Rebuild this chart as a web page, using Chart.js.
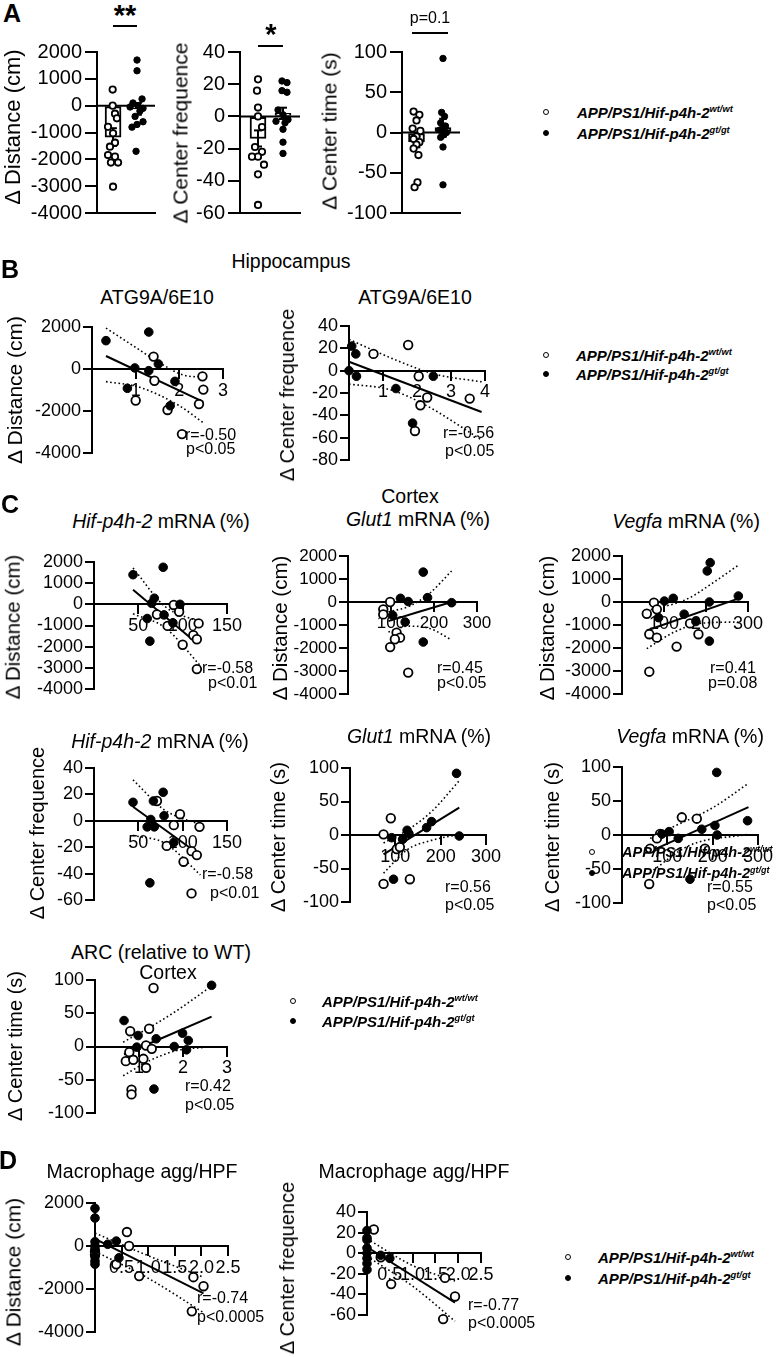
<!DOCTYPE html>
<html><head><meta charset="utf-8">
<script src="https://cdn.jsdelivr.net/npm/chart.js@4.4.1/dist/chart.umd.min.js"></script>
<style>
html,body{margin:0;padding:0;background:#fff;}
#root{position:relative;width:776px;height:1357px;overflow:hidden;font-family:'Liberation Sans',Arial,Helvetica,sans-serif;color:#000;background:#fff;}
canvas{position:absolute;}
.t{position:absolute;white-space:nowrap;line-height:1;}
.t sup{font-size:0.62em;vertical-align:0.55em;line-height:0;}
.hl{position:absolute;height:2px;background:#000;}
.mk{position:absolute;border-radius:50%;box-sizing:border-box;border:1.6px solid #000;}
</style></head><body><div id="root"></div>
<script>
// ---------------- DATA ----------------
// Panel A : Δ behaviour per genotype (open = wt/wt, filled = gt/gt)
const aColX = [0.83, 2.12];
const aDistWtY = [600, 0, -300, -470, -790, -1030, -1380, -1530, -1840, -1900, -2120, -2120, -3020];
const aDistWtX = [0.81, 0.81, 0.93, 1.03, 0.57, 0.83, 0.93, 0.67, 0.57, 0.93, 0.72, 1.09, 0.83];
const aDistGtY = [1700, 1300, 250, 100, 0, -50, -100, -200, -400, -600, -700, -800, -1700];
const aDistGtX = [2.07, 2.07, 2.33, 1.86, 2.12, 1.71, 2.38, 2.22, 1.97, 2.38, 2.07, 1.81, 2.02];
const aDistMean = [-1170, -120];
const aDistSem = [330, 220];

const aFreqColX = [0.9, 2.15];
const aFreqWtY = [23, 16, 5.5, 0, -6.6, -19, -22, -25, -25, -30, -36, -55];
const aFreqWtX = [0.9, 0.85, 0.9, 0.9, 1.1, 0.75, 1.1, 0.9, 0.6, 1.2, 0.9, 0.9];
const aFreqGtY = [22, 21, 16, 15, 4, 1, -2, -3, -4, -8, -16, -23];
const aFreqGtX = [2.1, 2.35, 2.1, 2.35, 1.9, 2.15, 2.4, 1.8, 2.25, 2.15, 2.15, 2.15];
const aFreqMean = [-13.7, 1.9];
const aFreqSem = [5, 3.5];

const aTimeColX = [0.75, 2.12];
const aTimeWtY = [26, 22, 15, 5, 2, -5, -8, -12, -15, -20, -28, -62, -68];
const aTimeWtX = [0.6, 0.9, 0.75, 0.55, 0.95, 0.75, 0.6, 0.9, 0.75, 0.6, 0.85, 0.8, 0.65];
const aTimeGtY = [92, 25, 20, 12, 8, 5, 3, 0, -3, -6, -18, -65];
const aTimeGtX = [2.12, 2.05, 2.2, 2.0, 2.25, 2.1, 1.95, 2.3, 2.15, 2.0, 2.12, 2.12];
const aTimeMean = [-11.4, 6];
const aTimeSem = [7, 11];

// Panel B : Hippocampus ATG9A/6E10
const b1GtX = [0.32, 1.30, 0.98, 1.30, 1.52, 0.81, 1.90, 1.79];
const b1GtY = [1350, 1760, 50, -80, 240, -920, -590, -1750];
const b1WtX = [1.41, 1.43, 1.00, 1.73, 2.53, 2.55, 2.45, 2.06];
const b1WtY = [590, -560, -1500, -1950, -350, -980, -1670, -3100];
const b1FitX = [0.32, 2.55], b1FitY = [620, -1570];
const b1UpX = [0.32, 0.94, 1.47, 2.15, 2.55], b1UpY = [1950, 1110, 400, -320, -380];
const b1LoX = [0.32, 1.09, 2.0, 2.55], b1LoY = [-600, -870, -1750, -2560];

const b2GtX = [0.08, 0.2, 0, 0.22, 1.38, 2.48, 1.87];
const b2GtY = [22, 15, 0, -5, -16, -5, -47];
const b2WtX = [0.72, 1.74, 2.05, 2.3, 2.1, 1.94, 3.55];
const b2WtY = [15, 23, -5, -24, -31, -54, -25];
const b2FitX = [0, 3.9], b2FitY = [8, -37];
const b2UpX = [0, 1.5, 2.5, 3.9], b2UpY = [28, 8, -3, -10];
const b2LoX = [0, 1.2, 2.2, 3.9], b2LoY = [-12, -17, -30, -62];

// Panel C : Cortex
const c1GtX = [44, 78, 68, 65, 97, 60, 89, 79, 63];
const c1GtY = [1400, 1750, 290, 50, 0, -670, -875, -500, -1740];
const c1WtX = [90, 96, 71, 118, 83, 112, 116, 100, 116];
const c1WtY = [-30, -350, -480, -900, -1020, -1460, -1650, -1910, -3060];
const c1FitX = [44, 112], c1FitY = [690, -1700];
const c1UpX = [44, 80, 120], c1UpY = [1720, -100, -830];
const c1LoX = [44, 80, 120], c1LoY = [-450, -1100, -2900];

const c2GtX = [175, 122, 140, 185, 241, 104, 133, 175];
const c2GtY = [1300, 160, 20, 190, -30, -580, -870, -1740];
const c2WtX = [98, 82, 82, 113, 121, 109, 98, 140];
const c2WtY = [0, -320, -540, -1330, -1550, -1620, -1960, -3070];
const c2FitX = [94, 241], c2FitY = [-830, 0];
const c2UpX = [94, 144, 191, 241], c2UpY = [-430, -170, 400, 1350];
const c2LoX = [94, 140, 190, 241], c2LoY = [-1300, -1050, -1150, -1650];

const c3GtX = [210, 203, 101, 122, 277, 208, 148, 176, 87, 208];
const c3GtY = [1710, 1350, 40, 160, 260, 0, -530, -850, -680, -1700];
const c3WtX = [76, 83, 59, 65, 83, 130, 182, 162, 65];
const c3WtY = [-30, -320, -510, -1400, -1550, -1940, -1400, -930, -3030];
const c3FitX = [59, 280], c3FitY = [-1240, 170];
const c3UpX = [59, 154, 217, 277], c3UpY = [-380, 120, 840, 1600];
const c3LoX = [59, 122, 186, 277], c3LoY = [-2030, -1330, -930, -870];

const c4GtX = [44, 78, 67, 79, 64, 60, 68, 90, 63];
const c4GtY = [14, 21.6, 15, 3.8, 1, -4.6, -4.6, -16.4, -47];
const c4WtX = [71, 97, 90, 119, 82, 110, 116, 101, 110];
const c4WtY = [15, 5, -3.3, -4.6, -19, -23, -26, -31, -55];
const c4FitX = [44, 116], c4FitY = [10.6, -24.2];
const c4UpX = [44, 80, 120], c4UpY = [31, 8, -3];
const c4LoX = [44, 80, 120], c4LoY = [-11, -17, -41];

const c5GtX = [235, 180, 169, 126, 130, 92, 116, 241, 96];
const c5GtY = [92, 20, 11, 7, 2, -4, -6.5, -1.5, -66];
const c5WtX = [74, 90, 103, 110, 74, 132];
const c5WtY = [1, 25, -21, -18, -73, -66];
const c5FitX = [74, 241], c5FitY = [-29, 41];
const c5UpX = [74, 126, 180, 241], c5UpY = [-12, 7, 35, 81];
const c5LoX = [74, 126, 180, 241], c5LoY = [-57, -22, -8, 1];

const c6GtX = [209, 277, 205, 176, 104, 88, 124, 210, 150];
const c6GtY = [92, 21, 14, 8.5, 5, 1.5, -5, 0, -65];
const c6WtX = [132, 165, 84, 77, 62, 183, 60];
const c6WtY = [26, 24, 1.5, -5, -20, -20, -72];
const c6FitX = [62, 279], c6FitY = [-24, 41];
const c6UpX = [62, 113, 200, 279], c6UpY = [-5, 12, 40, 76];
const c6LoX = [62, 150, 279], c6LoY = [-55, -15, 1];

const c7GtX = [2.65, 0.66, 1.99, 2.12, 0.98, 1.39, 1.80, 2.08, 0.95, 1.34];
const c7GtY = [92, 39, 20, 9, 16.5, 11.6, 0, -5, -1, -64];
const c7WtX = [1.33, 0.80, 1.23, 1.16, 1.29, 0.78, 0.70, 0.87, 1.10, 1.16, 0.83, 0.83];
const c7WtY = [88, 23, 26.7, 1.5, -3.5, -8.5, -22, -20, -18.5, -32, -65, -72];
const c7FitX = [0.66, 2.65], c7FitY = [-12, 45];
const c7UpX = [0.64, 1.25, 1.86, 2.61], c7UpY = [6.5, 29, 54, 89];
const c7LoX = [0.64, 1.25, 1.86, 2.54], c7LoY = [-44, -21, -6, -1];

// Panel D : Macrophage agg/HPF
const d1GtX = [0, 0, 0, 0, 0, 0, 0, 0, 0.24, 0.4, 0.45];
const d1GtY = [1750, 1300, 200, 0, -150, -500, -700, -850, 80, 230, -550];
const d1WtX = [0.6, 0.64, 0.4, 0.83, 1.85, 2.04, 1.82, 0, 0];
const d1WtY = [650, 0, -850, -1400, -1450, -1870, -3040, -250, -400];
const d1FitX = [0, 2.04], d1FitY = [330, -2200];
const d1UpX = [0, 1, 2.04], d1UpY = [600, -450, -1450];
const d1LoX = [0, 1, 2.04], d1LoY = [-250, -1500, -3100];

const d2GtX = [0, 0, 0, 0, 0, 0, 0, 0, 0.3, 0.5];
const d2GtY = [22, 15, 13, 5, 0, -5, -10, -16, -2, -5];
const d2WtX = [0.15, 0.3, 0.53, 1.71, 1.93, 1.67];
const d2WtY = [23, -4, -30, -24, -42, -64];
const d2FitX = [0, 1.93], d2FitY = [6, -48];
const d2UpX = [0, 1, 1.93], d2UpY = [14, -12, -27];
const d2LoX = [0, 1, 1.93], d2LoY = [-3, -32, -66];

// Tick values
const ticksDist2k = [-4000, -2000, 0, 2000];
const ticksDist1k = [-4000, -3000, -2000, -1000, 0, 1000, 2000];
const ticksFreq20 = [-60, -40, -20, 0, 20, 40];
const ticksFreq80 = [-80, -60, -40, -20, 0, 20, 40];
const ticksTime50 = [-100, -50, 0, 50, 100];
const xTicks0to3 = [0, 1, 2, 3], xLabels0to3 = ['', '1', '2', '3'];
const xTicks0to4 = [0, 1, 2, 3, 4], xLabels0to4 = ['', '1', '2', '3', '4'];
const xTicksHif = [0, 50, 100, 150], xLabelsHif = ['', '50', '100', '150'];
const xTicks300 = [0, 100, 200, 300], xLabels300 = ['', '100', '200', '300'];
const xTicksMac = [0, 0.5, 1, 1.5, 2, 2.5], xLabelsMac = ['', '0.5', '1.0', '1.5', '2.0', '2.5'];

const legendWt = 'APP/PS1/Hif-p4h-2', supWt = 'wt/wt', supGt = 'gt/gt';

// ---------------- HELPERS ----------------
const FONT = "'Liberation Sans', Arial, Helvetica, sans-serif";
Chart.defaults.font.family = FONT;
Chart.defaults.color = '#000';
const root = document.getElementById('root');

function P(xs, ys) { return xs.map((x, i) => ({x: x, y: ys[i]})); }
function wt(xs, ys, r) { return {data: P(xs, ys), pointRadius: r || 4.3, pointBackgroundColor: '#fff', pointBorderColor: '#000', pointBorderWidth: 1.8, showLine: false, clip: false, order: 0}; }
function gt(xs, ys, r) { return {data: P(xs, ys), pointRadius: r || 4.3, pointBackgroundColor: '#000', pointBorderColor: '#000', pointBorderWidth: 1, showLine: false, clip: false, order: 0}; }
function ln(xs, ys, dotted) {
  return {data: P(xs, ys), showLine: true, pointRadius: 0, borderColor: '#000', borderWidth: dotted ? 1.6 : 2,
    borderDash: dotted ? [1.6, 2.6] : [], tension: dotted ? 0.35 : 0, cubicInterpolationMode: 'monotone', fill: false, clip: false, order: 1};
}
function errBars(cols, means, sems, cap) {
  const out = [];
  cols.forEach((c, i) => {
    const lo = means[i] - sems[i], hi = means[i] + sems[i];
    out.push(ln([c, c], [lo, hi]));
    out.push(ln([c - cap, c + cap], [lo, lo]));
    out.push(ln([c - cap, c + cap], [hi, hi]));
  });
  return out;
}
function bars(cols, means) {
  return {type: 'bar', data: P(cols, means), barThickness: 16, backgroundColor: '#fff', borderColor: '#000', borderWidth: 2, borderSkipped: false, clip: false, order: 2};
}

function options(s) {
  const tf = {size: s.tf || 18, family: FONT};
  const ytl = s.ytl || 9;
  return {
    responsive: false, maintainAspectRatio: false, animation: false, devicePixelRatio: 1, events: [],
    layout: {padding: {left: 0, right: 24, top: 16, bottom: 16}},
    plugins: {legend: {display: false}, tooltip: {enabled: false}},
    scales: {
      x: {
        type: 'linear', min: s.xMin, max: s.xMax, offset: false,
        position: s.bar ? 'bottom' : {y: 0},
        afterBuildTicks: ax => { ax.ticks = s.xTicks.map(v => ({value: v})); },
        afterFit: ax => { ax.height = 0; },
        ticks: {display: !s.bar, autoSkip: false, maxRotation: 0, minRotation: 0, padding: 2, font: tf, color: '#000',
          callback: (v, i) => s.xLabels ? s.xLabels[i] : ''},
        grid: {display: !s.bar, offset: false, drawOnChartArea: false, drawTicks: true, tickLength: 9, color: '#000', lineWidth: 2},
        border: {display: true, color: '#000', width: 2}
      },
      y: {
        type: 'linear', min: s.yMin, max: s.yMax, position: 'left',
        afterBuildTicks: ax => { ax.ticks = s.yTicks.map(v => ({value: v})); },
        afterFit: ax => { ax.width = 80; },
        ticks: {autoSkip: false, padding: s.ypad || 2, font: tf, color: '#000', callback: (v, i) => String(s.yTicks[i])},
        grid: {drawOnChartArea: false, drawTicks: true, tickLength: ytl, color: '#000', lineWidth: 2},
        border: {display: true, color: '#000', width: 2}
      }
    }
  };
}

function make(W, H, s) {
  const c = document.createElement('canvas');
  c.width = W; c.height = H; c.style.width = W + 'px'; c.style.height = H + 'px';
  c.style.left = '0px'; c.style.top = '0px';
  root.appendChild(c);
  const ch = new Chart(c, {type: 'scatter', data: {datasets: s.sets()}, options: options(s)});
  return {c, ch};
}
function panel(s) {
  const aw = s.x1 - s.x0, ah = s.yBot - s.yTop;
  let W = Math.round(aw + 80 + 24), H = Math.round(ah + 32);
  let m = make(W, H, s);
  for (let k = 0; k < 3; k++) {
    const a = m.ch.chartArea;
    const dw = aw - (a.right - a.left), dh = ah - (a.bottom - a.top);
    if (Math.abs(dw) < 0.5 && Math.abs(dh) < 0.5) break;
    m.ch.destroy(); m.c.remove();
    W = Math.round(W + dw); H = Math.round(H + dh);
    m = make(W, H, s);
  }
  const a = m.ch.chartArea;
  m.c.style.left = (s.x0 - a.left) + 'px';
  m.c.style.top = (s.yTop - a.top) + 'px';
}

function T(html, x, y, size, o) {
  o = o || {};
  const d = document.createElement('div'); d.className = 't';
  d.innerHTML = html; d.style.fontSize = size + 'px';
  d.style.left = x + 'px'; d.style.top = y + 'px';
  let tr = o.left ? 'translate(0,-50%)' : 'translate(-50%,-50%)';
  if (o.rot) tr += ' rotate(-90deg)';
  d.style.transform = tr;
  if (o.bold) d.style.fontWeight = 'bold';
  if (o.italic) d.style.fontStyle = 'italic';
  root.appendChild(d);
}
function H(x1, x2, y) { const d = document.createElement('div'); d.className = 'hl'; d.style.left = x1 + 'px'; d.style.width = (x2 - x1) + 'px'; d.style.top = (y - 1) + 'px'; root.appendChild(d); }
function M(x, y, r, filled) { const d = document.createElement('div'); d.className = 'mk'; d.style.left = (x - r) + 'px'; d.style.top = (y - r) + 'px'; d.style.width = 2 * r + 'px'; d.style.height = 2 * r + 'px'; d.style.background = filled ? '#000' : '#fff'; root.appendChild(d); }
function legend(mx, y1, y2, tx, size) {
  M(mx, y1, 3.3, false); M(mx, y2, 3.3, true);
  T(legendWt + '<sup>' + supWt + '</sup>', tx, y1, size, {left: true, italic: true, bold: true});
  T(legendWt + '<sup>' + supGt + '</sup>', tx, y2, size, {left: true, italic: true, bold: true});
}
function sc(gx, gy, wx, wy, fx, fy, ux, uy, lx, ly) {
  return () => [gt(gx, gy), wt(wx, wy), ln(fx, fy), ln(ux, uy, true), ln(lx, ly, true)];
}

// ---------------- PANEL A ----------------
panel({x0: 97, x1: 155, yTop: 52, yBot: 213, xMin: 0, xMax: 3, xTicks: [0, 3], yMin: -4000, yMax: 2000, yTicks: ticksDist1k, tf: 20, ytl: 12, ypad: 3, bar: true,
  sets: () => [wt(aDistWtX, aDistWtY, 3.2), gt(aDistGtX, aDistGtY, 3.2), ln([0, 3], [0, 0]), ...errBars(aColX, aDistMean, aDistSem, 0.2), bars(aColX, aDistMean)]});
panel({x0: 240, x1: 300, yTop: 52, yBot: 213, xMin: 0, xMax: 3, xTicks: [0, 3], yMin: -60, yMax: 40, yTicks: ticksFreq20, tf: 20, ytl: 12, ypad: 3, bar: true,
  sets: () => [wt(aFreqWtX, aFreqWtY, 3.2), gt(aFreqGtX, aFreqGtY, 3.2), ln([0, 3], [0, 0]), ...errBars(aFreqColX, aFreqMean, aFreqSem, 0.2), bars(aFreqColX, aFreqMean)]});
panel({x0: 402, x1: 460, yTop: 52, yBot: 213, xMin: 0, xMax: 3, xTicks: [0, 3], yMin: -100, yMax: 100, yTicks: ticksTime50, tf: 20, ytl: 12, ypad: 3, bar: true,
  sets: () => [wt(aTimeWtX, aTimeWtY, 3.2), gt(aTimeGtX, aTimeGtY, 3.2), ln([0, 3], [0, 0]), ...errBars(aTimeColX, aTimeMean, aTimeSem, 0.2), bars(aTimeColX, aTimeMean)]});

T('A', 12, 13, 25, {bold: true});
T('**', 125, 15, 29, {bold: true});
H(113, 137, 26);
T('*', 271, 34, 29, {bold: true});
H(258, 283, 46);
T('p=0.1', 430, 18, 16);
H(412, 448, 33);
T('Δ Distance (cm)', 13, 127, 22, {rot: true});
T('Δ Center frequence', 180, 133, 21, {rot: true});
T('Δ Center time (s)', 329, 131, 21, {rot: true});
legend(546, 112, 133, 577, 15);

// ---------------- PANEL B ----------------
panel({x0: 92, x1: 223, yTop: 327, yBot: 453, xMin: 0, xMax: 3, xTicks: xTicks0to3, xLabels: xLabels0to3, yMin: -4000, yMax: 2000, yTicks: ticksDist2k,
  sets: sc(b1GtX, b1GtY, b1WtX, b1WtY, b1FitX, b1FitY, b1UpX, b1UpY, b1LoX, b1LoY)});
panel({x0: 349, x1: 485, yTop: 326, yBot: 460, xMin: 0, xMax: 4, xTicks: xTicks0to4, xLabels: xLabels0to4, yMin: -80, yMax: 40, yTicks: ticksFreq80,
  sets: sc(b2GtX, b2GtY, b2WtX, b2WtY, b2FitX, b2FitY, b2UpX, b2UpY, b2LoX, b2LoY)});
T('B', 10, 269, 25, {bold: true});
T('Hippocampus', 291, 262, 19.5);
T('ATG9A/6E10', 157, 298, 19.5);
T('ATG9A/6E10', 415, 298, 19.5);
T('Δ Distance (cm)', 14, 390, 21, {rot: true});
T('Δ Center frequence', 287, 395, 20, {rot: true});
T('r=-0.50', 185, 435, 16, {left: true});
T('p<0.05', 186, 449, 16, {left: true});
T('r=-0.56', 443, 433, 16, {left: true});
T('p<0.05', 445, 451, 16, {left: true});
legend(546, 355, 374, 576, 15);

// ---------------- PANEL C ----------------
panel({x0: 94, x1: 227, yTop: 562, yBot: 689, xMin: 0, xMax: 150, xTicks: xTicksHif, xLabels: xLabelsHif, yMin: -4000, yMax: 2000, yTicks: ticksDist1k,
  sets: sc(c1GtX, c1GtY, c1WtX, c1WtY, c1FitX, c1FitY, c1UpX, c1UpY, c1LoX, c1LoY)});
panel({x0: 348, x1: 477, yTop: 556, yBot: 694, xMin: 0, xMax: 300, xTicks: xTicks300, xLabels: xLabels300, yMin: -4000, yMax: 2000, yTicks: ticksDist1k, tf: 17,
  sets: sc(c2GtX, c2GtY, c2WtX, c2WtY, c2FitX, c2FitY, c2UpX, c2UpY, c2LoX, c2LoY)});
panel({x0: 622, x1: 748, yTop: 556, yBot: 694, xMin: 0, xMax: 300, xTicks: xTicks300, xLabels: xLabels300, yMin: -4000, yMax: 2000, yTicks: ticksDist1k,
  sets: sc(c3GtX, c3GtY, c3WtX, c3WtY, c3FitX, c3FitY, c3UpX, c3UpY, c3LoX, c3LoY)});
panel({x0: 94, x1: 227, yTop: 768, yBot: 900, xMin: 0, xMax: 150, xTicks: xTicksHif, xLabels: xLabelsHif, yMin: -60, yMax: 40, yTicks: ticksFreq20,
  sets: sc(c4GtX, c4GtY, c4WtX, c4WtY, c4FitX, c4FitY, c4UpX, c4UpY, c4LoX, c4LoY)});
panel({x0: 350, x1: 486, yTop: 768, yBot: 902, xMin: 0, xMax: 300, xTicks: xTicks300, xLabels: xLabels300, yMin: -100, yMax: 100, yTicks: ticksTime50,
  sets: sc(c5GtX, c5GtY, c5WtX, c5WtY, c5FitX, c5FitY, c5UpX, c5UpY, c5LoX, c5LoY)});
panel({x0: 622, x1: 758, yTop: 767, yBot: 903, xMin: 0, xMax: 300, xTicks: xTicks300, xLabels: xLabels300, yMin: -100, yMax: 100, yTicks: ticksTime50,
  sets: sc(c6GtX, c6GtY, c6WtX, c6WtY, c6FitX, c6FitY, c6UpX, c6UpY, c6LoX, c6LoY)});
panel({x0: 95, x1: 227, yTop: 980, yBot: 1113, xMin: 0, xMax: 3, xTicks: xTicks0to3, xLabels: xLabels0to3, yMin: -100, yMax: 100, yTicks: ticksTime50,
  sets: sc(c7GtX, c7GtY, c7WtX, c7WtY, c7FitX, c7FitY, c7UpX, c7UpY, c7LoX, c7LoY)});

T('C', 10, 504, 25, {bold: true});
T('Cortex', 410, 497, 19.5);
T('<i>Hif-p4h-2</i> mRNA (%)', 161, 522, 19.5);
T('<i>Glut1</i> mRNA (%)', 418, 520, 19.5);
T('<i>Vegfa</i> mRNA (%)', 686, 522, 19.5);
T('Δ Distance (cm)', 13, 627, 20.5, {rot: true});
T('Δ Distance (cm)', 280, 628, 20.5, {rot: true});
T('Δ Distance (cm)', 547, 628, 20.5, {rot: true});
T('r=-0.58', 202, 668, 16, {left: true});
T('p<0.01', 208, 683, 16, {left: true});
T('r=0.45', 437, 668, 16, {left: true});
T('p<0.05', 437, 683, 16, {left: true});
T('r=0.41', 710, 668, 16, {left: true});
T('p=0.08', 708, 683, 16, {left: true});

T('<i>Hif-p4h-2</i> mRNA (%)', 160, 742, 19.5);
T('<i>Glut1</i> mRNA (%)', 419, 737, 19.5);
T('<i>Vegfa</i> mRNA (%)', 690, 737, 19.5);
T('Δ Center frequence', 37, 833, 20, {rot: true});
T('Δ Center time (s)', 278, 837, 20, {rot: true});
T('Δ Center time (s)', 552, 837, 20, {rot: true});
T('r=-0.58', 202, 874, 16, {left: true});
T('p<0.01', 210, 893, 16, {left: true});
T('r=0.56', 445, 887, 16, {left: true});
T('p<0.05', 445, 905, 16, {left: true});
T('r=0.55', 707, 887, 16, {left: true});
T('p<0.05', 707, 905, 16, {left: true});
legend(592, 852, 873, 622, 14.5);

T('ARC (relative to WT)', 161, 953, 19.5);
T('Cortex', 168, 973, 19.5);
T('Δ Center time (s)', 15, 1046, 20, {rot: true});
T('r=0.42', 185, 1086, 16, {left: true});
T('p<0.05', 185, 1105, 16, {left: true});
legend(293, 1001, 1021, 322, 15);

// ---------------- PANEL D ----------------
panel({x0: 95, x1: 228, yTop: 1203, yBot: 1332, xMin: 0, xMax: 2.5, xTicks: xTicksMac, xLabels: xLabelsMac, yMin: -4000, yMax: 2000, yTicks: ticksDist2k,
  sets: sc(d1GtX, d1GtY, d1WtX, d1WtY, d1FitX, d1FitY, d1UpX, d1UpY, d1LoX, d1LoY)});
panel({x0: 367, x1: 481, yTop: 1212, yBot: 1315, xMin: 0, xMax: 2.5, xTicks: xTicksMac, xLabels: xLabelsMac, yMin: -60, yMax: 40, yTicks: ticksFreq20,
  sets: sc(d2GtX, d2GtY, d2WtX, d2WtY, d2FitX, d2FitY, d2UpX, d2UpY, d2LoX, d2LoY)});
T('D', 8, 1160, 25, {bold: true});
T('Macrophage agg/HPF', 142, 1172, 19.5);
T('Macrophage agg/HPF', 414, 1172, 19.5);
T('Δ Distance (cm)', 13, 1272, 21, {rot: true});
T('Δ Center frequence', 287, 1268, 20, {rot: true});
T('r=-0.74', 197, 1298, 16, {left: true});
T('p<0.0005', 197, 1317, 16, {left: true});
T('r=-0.77', 468, 1305, 16, {left: true});
T('p<0.0005', 468, 1323, 16, {left: true});
legend(568, 1257, 1278, 598, 15);
</script></body></html>
